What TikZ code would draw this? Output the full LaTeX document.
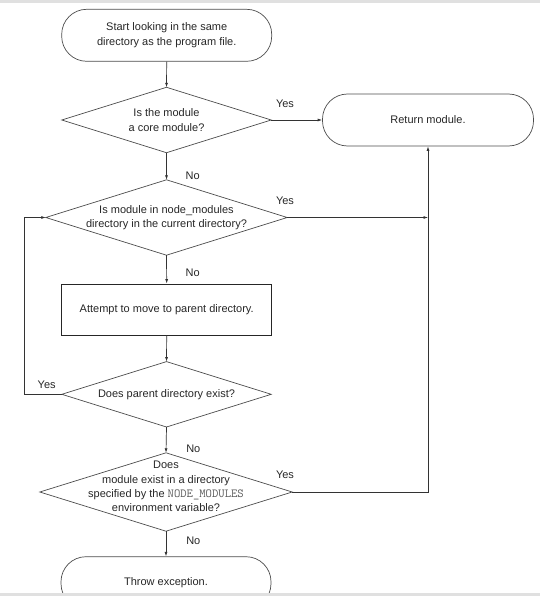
\documentclass[tikz,border=0pt]{standalone}
\usepackage{fontspec}
\setmainfont{Liberation Sans}
\usetikzlibrary{arrows.meta}
\begin{document}
\begin{tikzpicture}[x=1pt,y=-1pt,
  every node/.style={font=\fontsize{11}{14.3}\selectfont, text=black!85},
  term/.style={draw=black!70, line width=0.7pt, rounded corners=25pt, minimum width=210pt, minimum height=52pt, inner sep=0pt, align=center},
  procbox/.style={draw=black!85, line width=0.9pt, minimum width=210pt, minimum height=51pt, inner sep=0pt, align=center},
  diabox/.style 2 args={minimum width=#1, minimum height=#2, inner sep=0pt, align=center},
  diaedge/.style={draw=black!70, line width=0.7pt},
  conn/.style={draw=black!80, line width=0.7pt, -{Latex[length=4.5pt,width=3pt]}},
  lbl/.style={inner sep=0pt},
  band/.style={fill=black!12, draw=none}
]
\useasboundingbox (0,0) rectangle (540,596);
\clip (0,0) rectangle (540,596);

% nodes
\node[term] (start) at (166.7,35.3) {Start looking in the same\\directory as the program file.};
\node[diabox={209pt}{65pt}] (d1) at (166.5,120) {Is the module\\a core module?};
\node[term, minimum width=211pt] (ret) at (428,120) {Return module.};
\node[diabox={241pt}{75pt}] (d2) at (166.5,217.5) {Is module in node\_modules\\directory in the current directory?};
\node[procbox] (move) at (166.7,309.5) {Attempt to move to parent directory.};
\node[diabox={209pt}{65pt}] (d3) at (166.5,394.3) {Does parent directory exist?};
\node[diabox={252pt}{78pt}] (d4) at (166,492) {};
\node[lbl, align=center] (d4t) at (166,486.5) {Does\\module exist in a directory\\specified by the {\fontsize{12.3}{14.3}\ttfamily\color{black!65}NODE\_MODULES}\\environment variable?};
\node[term] (throw) at (166,582.7) {Throw exception.};

% diamond outlines
\foreach \d in {d1,d2,d3,d4}{
  \draw[diaedge] (\d.north) -- (\d.east) -- (\d.south) -- (\d.west) -- cycle;
}

% coordinates
\coordinate (j2) at (ret.south |- d2.east);
\coordinate (j4) at (ret.south |- d4.east);
\coordinate (l3) at (24.3,394.3);
\coordinate (l2) at (24.3,217.5);

% connectors
\draw[conn] (start.south) -- (d1.north);
\draw[conn] (d1.east) -- (ret.west);
\draw[conn] (d1.south) -- (d2.north);
\draw[conn] (d2.east) -- (j2);
\draw[conn] (d2.south) -- (move.north);
\draw[conn] (move.south) -- (d3.north);
\draw[conn] (d3.west) -- (l3) -- (l2) -- (d2.west);
\draw[conn] (d3.south) -- (d4.north);
\draw[conn] (d4.east) -- (j4) -- (ret.south);
\draw[conn] (d4.south) -- (throw.north);

% labels
\node[lbl] (y1) at (285,103.3) {Yes};
\node[lbl] (n1) at (192.7,175.7) {No};
\node[lbl] (y2) at (285,200.5) {Yes};
\node[lbl] (n2) at (192.7,272.7) {No};
\node[lbl] (y3) at (46.7,384.3) {Yes};
\node[lbl] (n3) at (193.3,448.3) {No};
\node[lbl] (y4) at (285,475) {Yes};
\node[lbl] (n4) at (193.3,540.7) {No};

% screenshot bands
\fill[band] (0,0) rectangle (540,3);
\fill[band] (0,593) rectangle (540,596);
\end{tikzpicture}
\end{document}
